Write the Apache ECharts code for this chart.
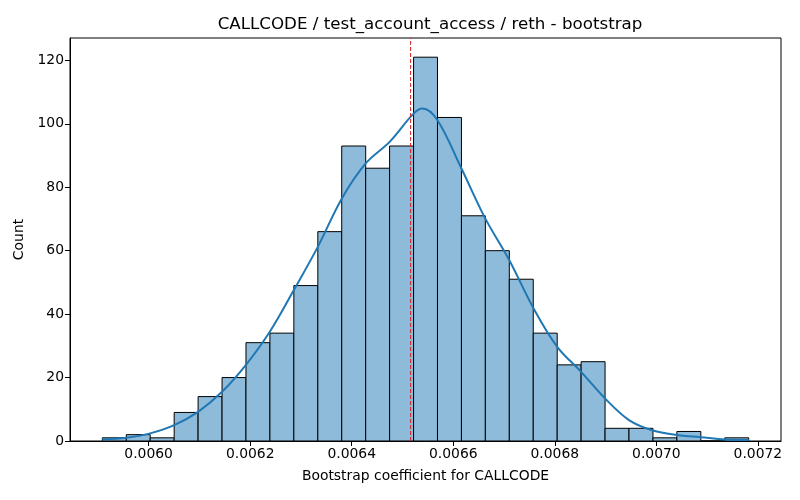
<!DOCTYPE html>
<html>
<head>
<meta charset="utf-8">
<script src="https://cdn.jsdelivr.net/npm/echarts@6/dist/echarts.min.js"></script>
<style>
  html, body { margin: 0; padding: 0; background: #fff; }
  #main { width: 800px; height: 500px; }
</style>
</head>
<body>
<div id="main"></div>
<script>
// bin edges of the histogram (27 bins)
var binEdges = [
  0.0059088, 0.0059560, 0.0060031, 0.0060503, 0.0060974, 0.0061446, 0.0061917,
  0.0062389, 0.0062860, 0.0063332, 0.0063803, 0.0064275, 0.0064746, 0.0065218,
  0.0065689, 0.0066161, 0.0066632, 0.0067104, 0.0067575, 0.0068047, 0.0068518,
  0.0068990, 0.0069461, 0.0069933, 0.0070404, 0.0070876, 0.0071347, 0.0071819
];
// counts per bin
var counts = [1, 2, 1, 9, 14, 20, 31, 34, 49, 66, 93, 86, 93, 121, 102, 71, 60, 51, 34, 24, 25, 4, 4, 1, 3, 0, 1];
// kde curve read at every bin edge
var kde = [0.5, 1.0, 2.4, 5.0, 9.2, 15.5, 24, 34.5, 47.6, 61.2, 76.4, 87.5, 94.3, 103.2,
  101.1, 85.9, 70.1, 57, 42, 29.7, 21.8, 13.4, 6.6, 3.3, 1.9, 1.2, 0.5, 0.3];
// extra point at the peak of the curve
var kdePeak = [0.0065393, 104.8];
var meanLine = 0.006516;
var xTicks = [0.0060, 0.0062, 0.0064, 0.0066, 0.0068, 0.0070, 0.0072];
var yMax = 127.05;

var barData = counts.map(function (c, i) { return [binEdges[i], binEdges[i + 1], c]; });
var kdeData = kde.map(function (v, i) { return [binEdges[i], v]; });
kdeData.push(kdePeak);
kdeData.sort(function (a, b) { return a[0] - b[0]; });

var myChart = echarts.init(document.getElementById('main'));
var font = 'DejaVu Sans';

myChart.setOption({
  backgroundColor: '#fff',
  animation: false,
  title: {
    text: 'CALLCODE / test_account_access / reth - bootstrap',
    left: 425, top: 11, textAlign: 'center',
    textStyle: { fontFamily: font, fontSize: 16.7, fontWeight: 'normal', color: '#000' }
  },
  grid: {
    left: 70, right: 19, top: 38, bottom: 59,
    show: true, borderColor: '#000', borderWidth: 1
  },
  xAxis: {
    type: 'value',
    min: 0.0058451, max: 0.0072455,
    name: 'Bootstrap coefficient for CALLCODE',
    nameLocation: 'middle', nameGap: 28,
    nameTextStyle: { fontFamily: font, fontSize: 13.9, color: '#000' },
    axisLine: { show: true, lineStyle: { color: '#000' } },
    axisTick: { show: true, length: 5, customValues: xTicks, lineStyle: { color: '#000' } },
    axisLabel: {
      customValues: xTicks, fontFamily: font, fontSize: 13.9, color: '#000', margin: 6,
      formatter: function (v) { return v.toFixed(4); }
    },
    splitLine: { show: false }
  },
  yAxis: {
    type: 'value',
    min: 0, max: yMax, interval: 20,
    name: 'Count',
    nameLocation: 'middle', nameGap: 39,
    nameTextStyle: { fontFamily: font, fontSize: 13.9, color: '#000' },
    axisLine: { show: true, lineStyle: { color: '#000' } },
    axisTick: { show: true, length: 5, lineStyle: { color: '#000' } },
    axisLabel: { fontFamily: font, fontSize: 13.9, color: '#000', margin: 6, showMaxLabel: false },
    splitLine: { show: false }
  },
  series: [{
    type: 'custom',
    data: barData,
    renderItem: function (params, api) {
      var p0 = api.coord([api.value(0), api.value(2)]);
      var p1 = api.coord([api.value(1), 0]);
      return {
        type: 'rect',
        shape: { x: p0[0], y: p0[1], width: p1[0] - p0[0], height: p1[1] - p0[1] },
        style: { fill: '#8fbbda', stroke: '#000', lineWidth: 1 }
      };
    },
    encode: { x: [0, 1], y: 2 },
    z: 2
  }, {
    type: 'line',
    data: kdeData,
    smooth: 0.35,
    showSymbol: false,
    lineStyle: { color: '#1f77b4', width: 2 },
    z: 3
  }, {
    // dashed mean line
    type: 'line',
    data: [[meanLine, 0], [meanLine, yMax]],
    showSymbol: false,
    lineStyle: { color: '#d62020', type: [4, 2], width: 1 },
    z: 4
  }]
});
</script>
</body>
</html>
